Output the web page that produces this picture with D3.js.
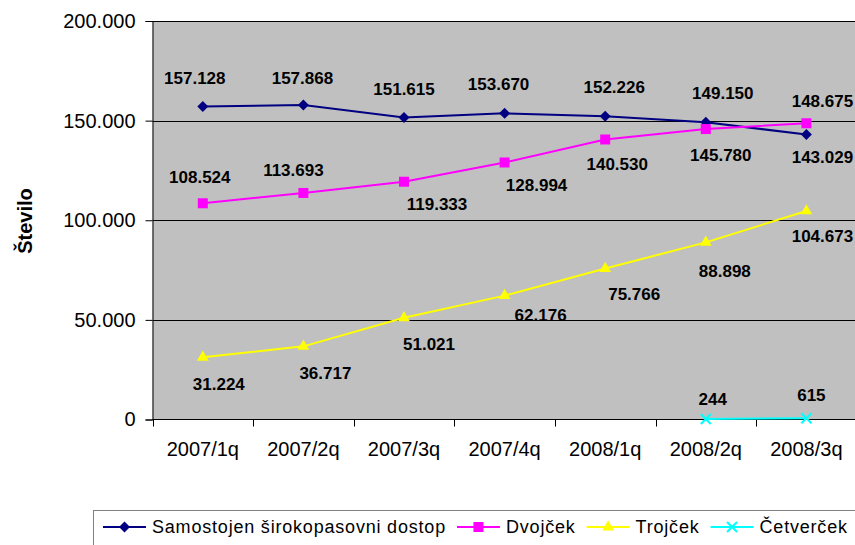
<!DOCTYPE html>
<html>
<head>
<meta charset="utf-8">
<script src="https://cdn.jsdelivr.net/npm/d3@7"></script>
<style>
  html, body { margin: 0; padding: 0; background: #fff; }
  svg { display: block; font-family: "Liberation Sans", Arial, sans-serif; }
</style>
</head>
<body>
<svg id="chart" width="855" height="545"></svg>
<script>
// ---- data ----
const categories = ["2007/1q", "2007/2q", "2007/3q", "2007/4q", "2008/1q", "2008/2q", "2008/3q"];
const samostojen = [157128, 157868, 151615, 153670, 152226, 149150, 143029];
const dvojcek    = [108524, 113693, 119333, 128994, 140530, 145780, 148675];
const trojcek    = [31224, 36717, 51021, 62176, 75766, 88898, 104673];
const cetvercek  = [null, null, null, null, null, 244, 615];
const seriesNames = ["Samostojen širokopasovni dostop", "Dvojček", "Trojček", "Četverček"];
const yTicks = [0, 50000, 100000, 150000, 200000];
const yTitle = "Število";

// ---- label placement (style) ----
const labelDx = [
  [-8, -1, 0, -6, 9, 17, 16],
  [-3, -10, 33, 32, 12, 15, 16],
  [16, 22, 25, 36, 29, 19, 16],
  [0, 0, 0, 0, 0, 7, 5]
];
const labelDy = [
  [-29, -27, -29, -29, -29, -29, 22],
  [-26, -23, 22, 22, 24, 26, -22],
  [27, 27, 26, 19, 25, 29, 25],
  [0, 0, 0, 0, 0, -20, -23]
];
const colors = ["#000080", "#FF00FF", "#FFFF00", "#00FFFF"];
const symbols = ["diamond", "square", "triangle", "cross"];

const svg = d3.select("#chart");
const pLeft = 152.5, pRight = 856.7, pTop = 21, pBottom = 419.5;

const x = d3.scaleBand().domain(categories).range([pLeft, pRight]).padding(0);
const y = d3.scaleLinear().domain([0, 200000]).range([pBottom, pTop]);
const fmt = v => d3.format(",")(v).replace(/,/g, ".");

// plot background
svg.append("rect").attr("x", pLeft).attr("y", pTop)
  .attr("width", pRight - pLeft).attr("height", pBottom - pTop)
  .attr("fill", "#C0C0C0");

// gridlines
svg.append("g").selectAll("line").data(yTicks.filter(d => d > 0)).join("line")
  .attr("x1", pLeft).attr("x2", pRight)
  .attr("y1", d => Math.round(y(d)) + 0.5).attr("y2", d => Math.round(y(d)) + 0.5)
  .attr("stroke", "#000").attr("stroke-width", 1);

// y axis
const yAxis = svg.append("g").attr("transform", `translate(${pLeft},0)`)
  .call(d3.axisLeft(y).tickValues(yTicks).tickFormat(fmt).tickSize(7).tickPadding(10));
yAxis.select(".domain").attr("stroke", "#000");
yAxis.selectAll("text").attr("font-size", 20).attr("fill", "#000")
  .attr("font-family", "Liberation Sans, Arial, sans-serif");

// x axis
const xAxisG = svg.append("g").attr("transform", `translate(0,${pBottom})`);
xAxisG.append("line").attr("x1", pLeft).attr("x2", pRight).attr("y1", 0).attr("y2", 0).attr("stroke", "#000");
const boundaries = categories.map(c => x(c)).concat([x(categories[categories.length - 1]) + x.bandwidth()]);
xAxisG.selectAll("line.tick").data(boundaries).join("line").attr("class", "tick")
  .attr("x1", d => Math.round(d) + 0.5).attr("x2", d => Math.round(d) + 0.5)
  .attr("y1", 0).attr("y2", 7).attr("stroke", "#000");
xAxisG.selectAll("text").data(categories).join("text")
  .attr("x", d => x(d) + x.bandwidth() / 2).attr("y", 36)
  .attr("text-anchor", "middle").attr("font-size", 20).attr("fill", "#000")
  .text(d => d);

// y title
svg.append("text").attr("transform", "translate(25,221) rotate(-90)")
  .attr("text-anchor", "middle").attr("dy", "0.36em").attr("font-size", 20).attr("font-weight", "bold")
  .text(yTitle);

// series
const allSeries = [samostojen, dvojcek, trojcek, cetvercek];
const symbolPath = (type) => {
  if (type === "diamond") return "M0,-5.5L5.5,0L0,5.5L-5.5,0Z";
  if (type === "square") return d3.symbol(d3.symbolSquare, 100)();
  if (type === "triangle") return d3.symbol(d3.symbolTriangle, 60)();
  return "M-5,-5L5,5M-5,5L5,-5";
};
const cx = c => x(c) + x.bandwidth() / 2;

allSeries.forEach((vals, si) => {
  const pts = vals.map((v, i) => ({ v, c: categories[i], i })).filter(d => d.v !== null);
  const line = d3.line().x(d => cx(d.c)).y(d => y(d.v));
  const g = svg.append("g");
  g.append("path").attr("d", line(pts)).attr("fill", "none")
    .attr("stroke", colors[si]).attr("stroke-width", 2);
  g.selectAll("path.m").data(pts).join("path").attr("class", "m")
    .attr("transform", d => `translate(${cx(d.c)},${y(d.v)})`)
    .attr("d", symbolPath(symbols[si]))
    .attr("fill", symbols[si] === "cross" ? "none" : colors[si])
    .attr("stroke", colors[si]).attr("stroke-width", symbols[si] === "cross" ? 2 : 0);
});

// data labels
allSeries.forEach((vals, si) => {
  const pts = vals.map((v, i) => ({ v, c: categories[i], i })).filter(d => d.v !== null);
  svg.append("g").selectAll("text").data(pts).join("text")
    .attr("x", d => cx(d.c) + labelDx[si][d.i])
    .attr("y", d => y(d.v) + labelDy[si][d.i])
    .attr("dy", "0.36em")
    .attr("text-anchor", "middle").attr("font-size", 17).attr("font-weight", "bold")
    .attr("fill", "#000")
    .text(d => fmt(d.v));
});

// plot border top
svg.append("line").attr("x1", pLeft).attr("x2", pRight).attr("y1", pTop + 0.5).attr("y2", pTop + 0.5)
  .attr("stroke", "#000");

// legend
const legend = svg.append("g");
legend.append("rect").attr("x", 93.5).attr("y", 510.5).attr("width", 800).attr("height", 60)
  .attr("fill", "#fff").attr("stroke", "#808080").attr("stroke-width", 1);
let lx = 103;
const ly = 527;
seriesNames.forEach((name, si) => {
  const item = legend.append("g");
  item.append("line").attr("x1", lx).attr("x2", lx + 43).attr("y1", ly).attr("y2", ly)
    .attr("stroke", colors[si]).attr("stroke-width", 2);
  item.append("path").attr("transform", `translate(${lx + 21.5},${ly})`)
    .attr("d", symbolPath(symbols[si]))
    .attr("fill", symbols[si] === "cross" ? "none" : colors[si])
    .attr("stroke", colors[si]).attr("stroke-width", symbols[si] === "cross" ? 2 : 0);
  const t = item.append("text").attr("x", lx + 49).attr("y", ly).attr("dy", "0.36em")
    .attr("font-size", 18).attr("letter-spacing", "0.8px").attr("fill", "#000").text(name);
  lx = lx + 49 + t.node().getComputedTextLength() + 11;
});
</script>
</body>
</html>
